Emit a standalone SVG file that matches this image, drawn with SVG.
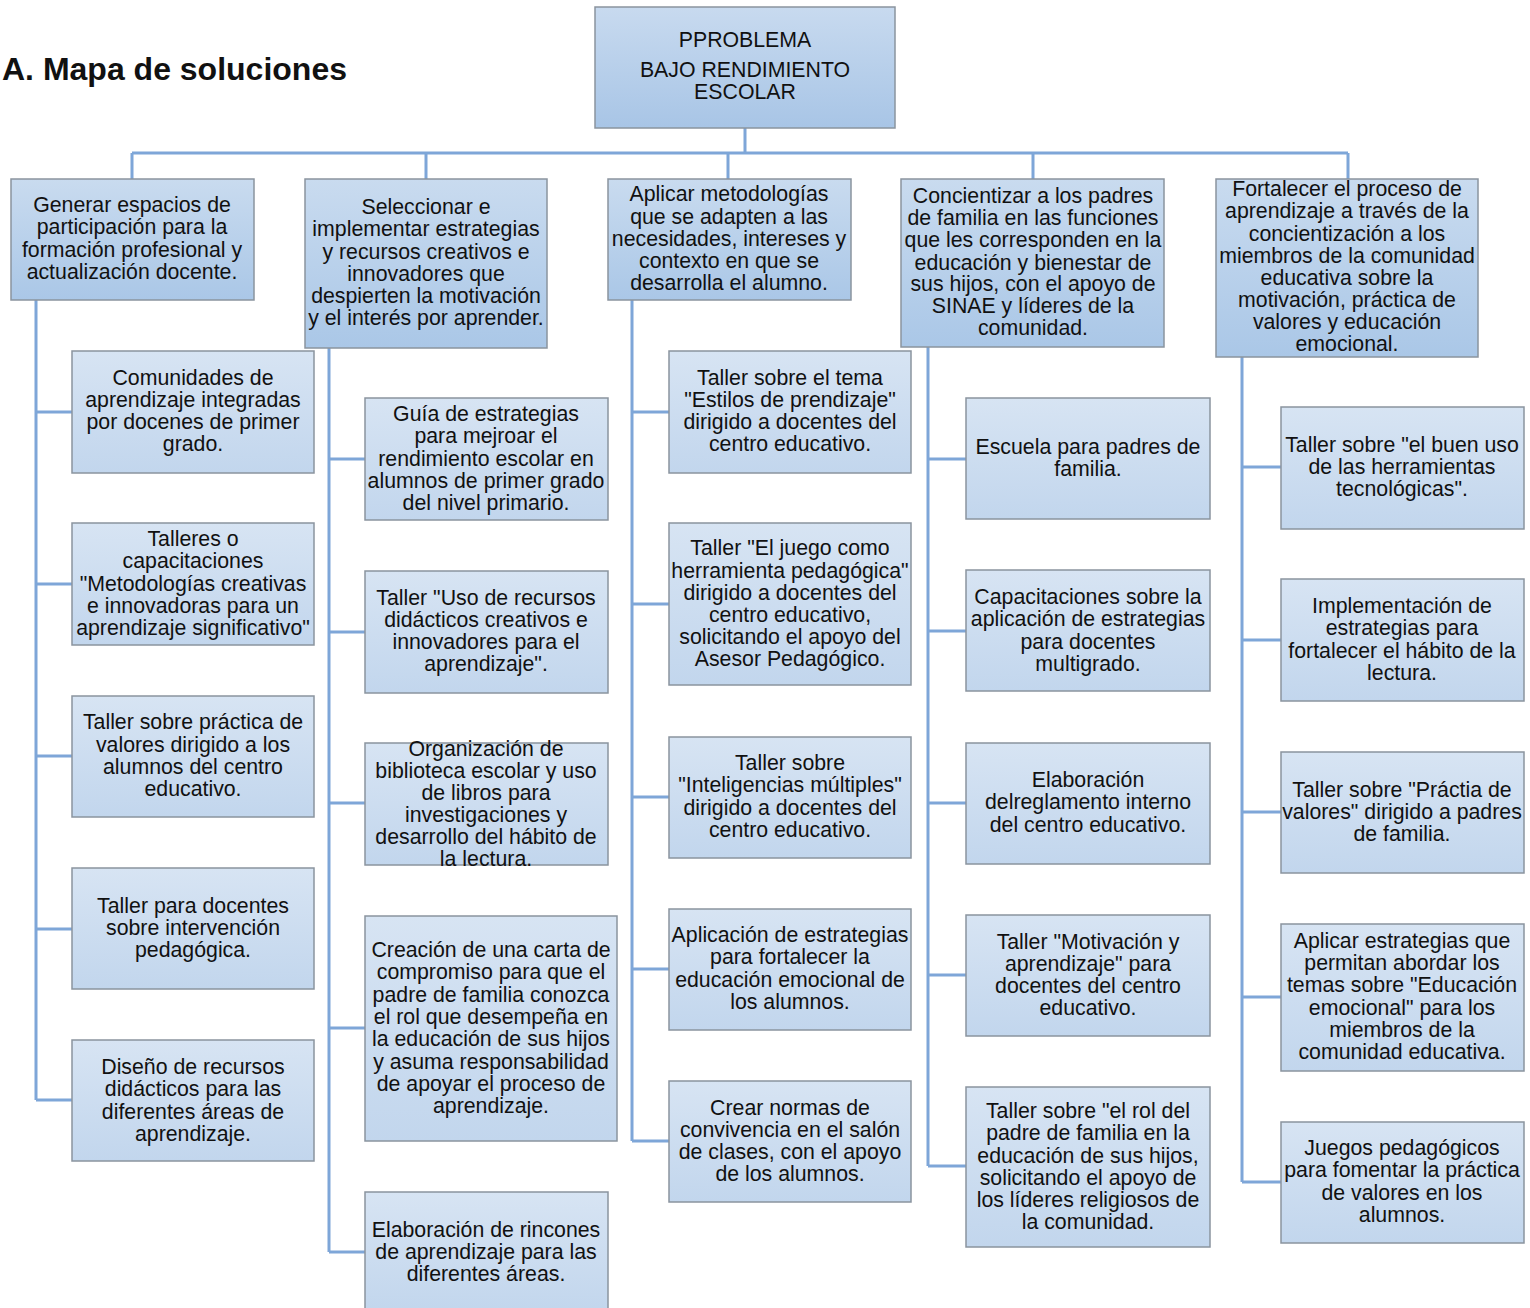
<svg xmlns="http://www.w3.org/2000/svg" width="1530" height="1308" viewBox="0 0 1530 1308">
<defs>
<linearGradient id="gTop" x1="0" y1="0" x2="0" y2="1"><stop offset="0" stop-color="#c8daef"/><stop offset="1" stop-color="#a8c5e6"/></linearGradient>
<linearGradient id="gL1" x1="0" y1="0" x2="0" y2="1"><stop offset="0" stop-color="#c9dbef"/><stop offset="1" stop-color="#aac7e7"/></linearGradient>
<linearGradient id="gL2" x1="0" y1="0" x2="0" y2="1"><stop offset="0" stop-color="#d7e4f3"/><stop offset="1" stop-color="#c2d6ed"/></linearGradient>
</defs>
<style>
.t{font-family:"Liberation Sans",Arial,sans-serif;font-size:21.3px;fill:#111;text-anchor:middle}
.b1{fill:url(#gL1);stroke:#8a949e;stroke-width:1.5}
.b0{fill:url(#gTop);stroke:#8a949e;stroke-width:1.5}
.b2{fill:url(#gL2);stroke:#8a949e;stroke-width:1.5}
.c{stroke:#7ea6d8;stroke-width:3;fill:none}
.title{font-family:"Liberation Sans",Arial,sans-serif;font-size:32px;font-weight:bold;fill:#111}
</style>
<rect width="1530" height="1308" fill="#fff"/>
<text class="title" x="2" y="80">A. Mapa de soluciones</text>
<g id="connectors">
<path class="c" d="M745 128V153M132 153H1348M132 153V179M426 153V179M728 153V179M1033 153V179M1348 153V179"/>
<path class="c" d="M36 300V1100M36 412H72M36 584H72M36 756H72M36 929H72M36 1100H72"/>
<path class="c" d="M329 348V1252M329 459H365M329 632H365M329 803H365M329 1028H365M329 1252H365"/>
<path class="c" d="M632 300V1141M632 412H669M632 604H669M632 797H669M632 969H669M632 1141H669"/>
<path class="c" d="M928 347V1166M928 459H966M928 631H966M928 803H966M928 975H966M928 1166H966"/>
<path class="c" d="M1242 357V1182M1242 467H1281M1242 640H1281M1242 812H1281M1242 997H1281M1242 1182H1281"/>
</g>
<g id="root"><rect class="b0" x="595" y="7" width="300" height="121"/>
<text class="t"><tspan x="745" y="47">PPROBLEMA</tspan><tspan x="745" y="77">BAJO RENDIMIENTO</tspan><tspan x="745" y="99">ESCOLAR</tspan></text></g>

<g id="n1"><rect class="b1" x="11" y="179" width="243" height="121"/>
<text class="t"><tspan x="132" y="212">Generar espacios de</tspan><tspan x="132" y="234">participación para la</tspan><tspan x="132" y="257">formación profesional y</tspan><tspan x="132" y="279">actualización docente.</tspan></text></g>
<g id="n2"><rect class="b1" x="305" y="179" width="242" height="169"/>
<text class="t"><tspan x="426" y="214">Seleccionar e</tspan><tspan x="426" y="236">implementar estrategias</tspan><tspan x="426" y="259">y recursos creativos e</tspan><tspan x="426" y="281">innovadores que</tspan><tspan x="426" y="303">despierten la motivación</tspan><tspan x="426" y="325">y el interés por aprender.</tspan></text></g>
<g id="n3"><rect class="b1" x="608" y="179" width="243" height="121"/>
<text class="t"><tspan x="729" y="201">Aplicar metodologías</tspan><tspan x="729" y="224">que se adapten a las</tspan><tspan x="729" y="246">necesidades, intereses y</tspan><tspan x="729" y="268">contexto en que se</tspan><tspan x="729" y="290">desarrolla el alumno.</tspan></text></g>
<g id="n4"><rect class="b1" x="901" y="179" width="263" height="168"/>
<text class="t"><tspan x="1033" y="203">Concientizar a los padres</tspan><tspan x="1033" y="225">de familia en las funciones</tspan><tspan x="1033" y="247">que les corresponden en la</tspan><tspan x="1033" y="270">educación y bienestar de</tspan><tspan x="1033" y="291">sus hijos, con el apoyo de</tspan><tspan x="1033" y="313">SINAE y líderes de la</tspan><tspan x="1033" y="335">comunidad.</tspan></text></g>
<g id="n5"><rect class="b1" x="1216" y="179" width="262" height="178"/>
<text class="t"><tspan x="1347" y="196">Fortalecer el proceso de</tspan><tspan x="1347" y="218">aprendizaje a través de la</tspan><tspan x="1347" y="241">concientización a los</tspan><tspan x="1347" y="263">miembros de la comunidad</tspan><tspan x="1347" y="285">educativa sobre la</tspan><tspan x="1347" y="307">motivación, práctica de</tspan><tspan x="1347" y="329">valores y educación</tspan><tspan x="1347" y="351">emocional.</tspan></text></g>

<g id="n1a"><rect class="b2" x="72" y="351" width="242" height="122"/>
<text class="t"><tspan x="193" y="385">Comunidades de</tspan><tspan x="193" y="407">aprendizaje integradas</tspan><tspan x="193" y="429">por docenes de primer</tspan><tspan x="193" y="451">grado.</tspan></text></g>
<g id="n1b"><rect class="b2" x="72" y="523" width="242" height="122"/>
<text class="t"><tspan x="193" y="546">Talleres o</tspan><tspan x="193" y="568">capacitaciones</tspan><tspan x="193" y="591">"Metodologías creativas</tspan><tspan x="193" y="613">e innovadoras para un</tspan><tspan x="193" y="635">aprendizaje significativo"</tspan></text></g>
<g id="n1c"><rect class="b2" x="72" y="696" width="242" height="121"/>
<text class="t"><tspan x="193" y="729">Taller sobre práctica de</tspan><tspan x="193" y="752">valores dirigido a los</tspan><tspan x="193" y="774">alumnos del centro</tspan><tspan x="193" y="796">educativo.</tspan></text></g>
<g id="n1d"><rect class="b2" x="72" y="868" width="242" height="121"/>
<text class="t"><tspan x="193" y="913">Taller para docentes</tspan><tspan x="193" y="935">sobre intervención</tspan><tspan x="193" y="957">pedagógica.</tspan></text></g>
<g id="n1e"><rect class="b2" x="72" y="1040" width="242" height="121"/>
<text class="t"><tspan x="193" y="1074">Diseño de recursos</tspan><tspan x="193" y="1096">didácticos para las</tspan><tspan x="193" y="1119">diferentes áreas de</tspan><tspan x="193" y="1141">aprendizaje.</tspan></text></g>

<g id="n2a"><rect class="b2" x="365" y="398" width="243" height="122"/>
<text class="t"><tspan x="486" y="421">Guía de estrategias</tspan><tspan x="486" y="443">para mejroar el</tspan><tspan x="486" y="466">rendimiento escolar en</tspan><tspan x="486" y="488">alumnos de primer grado</tspan><tspan x="486" y="510">del nivel primario.</tspan></text></g>
<g id="n2b"><rect class="b2" x="365" y="571" width="243" height="122"/>
<text class="t"><tspan x="486" y="605">Taller "Uso de recursos</tspan><tspan x="486" y="627">didácticos creativos e</tspan><tspan x="486" y="649">innovadores para el</tspan><tspan x="486" y="671">aprendizaje".</tspan></text></g>
<g id="n2c"><rect class="b2" x="365" y="743" width="243" height="122"/>
<text class="t"><tspan x="486" y="756">Organización de</tspan><tspan x="486" y="778">biblioteca escolar y uso</tspan><tspan x="486" y="800">de libros para</tspan><tspan x="486" y="822">investigaciones y</tspan><tspan x="486" y="844">desarrollo del hábito de</tspan><tspan x="486" y="866">la lectura.</tspan></text></g>
<g id="n2d"><rect class="b2" x="365" y="916" width="252" height="225"/>
<text class="t"><tspan x="491" y="957">Creación de una carta de</tspan><tspan x="491" y="979">compromiso para que el</tspan><tspan x="491" y="1002">padre de familia conozca</tspan><tspan x="491" y="1024">el rol que desempeña en</tspan><tspan x="491" y="1046">la educación de sus hijos</tspan><tspan x="491" y="1069">y asuma responsabilidad</tspan><tspan x="491" y="1091">de apoyar el proceso de</tspan><tspan x="491" y="1113">aprendizaje.</tspan></text></g>
<g id="n2e"><rect class="b2" x="365" y="1192" width="243" height="120"/>
<text class="t"><tspan x="486" y="1237">Elaboración de rincones</tspan><tspan x="486" y="1259">de aprendizaje para las</tspan><tspan x="486" y="1281">diferentes áreas.</tspan></text></g>

<g id="n3a"><rect class="b2" x="669" y="351" width="242" height="122"/>
<text class="t"><tspan x="790" y="385">Taller sobre el tema</tspan><tspan x="790" y="407">"Estilos de prendizaje"</tspan><tspan x="790" y="429">dirigido a docentes del</tspan><tspan x="790" y="451">centro educativo.</tspan></text></g>
<g id="n3b"><rect class="b2" x="669" y="523" width="242" height="162"/>
<text class="t"><tspan x="790" y="555">Taller "El juego como</tspan><tspan x="790" y="578">herramienta pedagógica"</tspan><tspan x="790" y="600">dirigido a docentes del</tspan><tspan x="790" y="622">centro educativo,</tspan><tspan x="790" y="644">solicitando el apoyo del</tspan><tspan x="790" y="666">Asesor Pedagógico.</tspan></text></g>
<g id="n3c"><rect class="b2" x="669" y="737" width="242" height="121"/>
<text class="t"><tspan x="790" y="770">Taller sobre</tspan><tspan x="790" y="792">"Inteligencias múltiples"</tspan><tspan x="790" y="815">dirigido a docentes del</tspan><tspan x="790" y="837">centro educativo.</tspan></text></g>
<g id="n3d"><rect class="b2" x="669" y="909" width="242" height="121"/>
<text class="t"><tspan x="790" y="942">Aplicación de estrategias</tspan><tspan x="790" y="964">para fortalecer la</tspan><tspan x="790" y="987">educación emocional de</tspan><tspan x="790" y="1009">los alumnos.</tspan></text></g>
<g id="n3e"><rect class="b2" x="669" y="1081" width="242" height="121"/>
<text class="t"><tspan x="790" y="1115">Crear normas de</tspan><tspan x="790" y="1137">convivencia en el salón</tspan><tspan x="790" y="1159">de clases, con el apoyo</tspan><tspan x="790" y="1181">de los alumnos.</tspan></text></g>

<g id="n4a"><rect class="b2" x="966" y="398" width="244" height="121"/>
<text class="t"><tspan x="1088" y="454">Escuela para padres de</tspan><tspan x="1088" y="476">familia.</tspan></text></g>
<g id="n4b"><rect class="b2" x="966" y="570" width="244" height="121"/>
<text class="t"><tspan x="1088" y="604">Capacitaciones sobre la</tspan><tspan x="1088" y="626">aplicación de estrategias</tspan><tspan x="1088" y="649">para docentes</tspan><tspan x="1088" y="671">multigrado.</tspan></text></g>
<g id="n4c"><rect class="b2" x="966" y="743" width="244" height="121"/>
<text class="t"><tspan x="1088" y="787">Elaboración</tspan><tspan x="1088" y="809">delreglamento interno</tspan><tspan x="1088" y="832">del centro educativo.</tspan></text></g>
<g id="n4d"><rect class="b2" x="966" y="915" width="244" height="121"/>
<text class="t"><tspan x="1088" y="949">Taller "Motivación y</tspan><tspan x="1088" y="971">aprendizaje" para</tspan><tspan x="1088" y="993">docentes del centro</tspan><tspan x="1088" y="1015">educativo.</tspan></text></g>
<g id="n4e"><rect class="b2" x="966" y="1087" width="244" height="160"/>
<text class="t"><tspan x="1088" y="1118">Taller sobre "el rol del</tspan><tspan x="1088" y="1140">padre de familia en la</tspan><tspan x="1088" y="1163">educación de sus hijos,</tspan><tspan x="1088" y="1185">solicitando el apoyo de</tspan><tspan x="1088" y="1207">los líderes religiosos de</tspan><tspan x="1088" y="1229">la comunidad.</tspan></text></g>

<g id="n5a"><rect class="b2" x="1281" y="407" width="243" height="122"/>
<text class="t"><tspan x="1402" y="452">Taller sobre "el buen uso</tspan><tspan x="1402" y="474">de las herramientas</tspan><tspan x="1402" y="496">tecnológicas".</tspan></text></g>
<g id="n5b"><rect class="b2" x="1281" y="579" width="243" height="122"/>
<text class="t"><tspan x="1402" y="613">Implementación de</tspan><tspan x="1402" y="635">estrategias para</tspan><tspan x="1402" y="658">fortalecer el hábito de la</tspan><tspan x="1402" y="680">lectura.</tspan></text></g>
<g id="n5c"><rect class="b2" x="1281" y="752" width="243" height="121"/>
<text class="t"><tspan x="1402" y="797">Taller sobre "Práctia de</tspan><tspan x="1402" y="819">valores" dirigido a padres</tspan><tspan x="1402" y="841">de familia.</tspan></text></g>
<g id="n5d"><rect class="b2" x="1281" y="924" width="243" height="147"/>
<text class="t"><tspan x="1402" y="948">Aplicar estrategias que</tspan><tspan x="1402" y="970">permitan abordar los</tspan><tspan x="1402" y="992">temas sobre "Educación</tspan><tspan x="1402" y="1015">emocional" para los</tspan><tspan x="1402" y="1037">miembros de la</tspan><tspan x="1402" y="1059">comunidad educativa.</tspan></text></g>
<g id="n5e"><rect class="b2" x="1281" y="1122" width="243" height="121"/>
<text class="t"><tspan x="1402" y="1155">Juegos pedagógicos</tspan><tspan x="1402" y="1177">para fomentar la práctica</tspan><tspan x="1402" y="1200">de valores en los</tspan><tspan x="1402" y="1222">alumnos.</tspan></text></g>
</svg>
